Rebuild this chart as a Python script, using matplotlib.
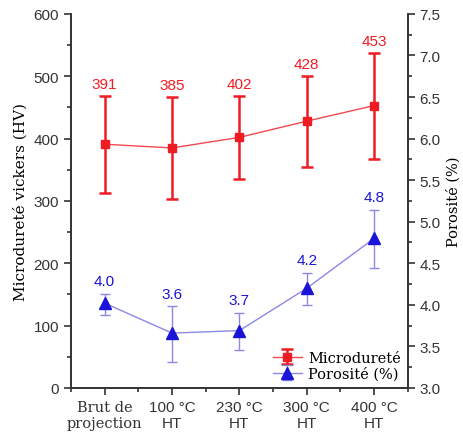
import matplotlib.pyplot as plt
from matplotlib.ticker import MultipleLocator

# données
categories = ["Brut de\nprojection", "100 °C\nHT", "230 °C\nHT", "300 °C\nHT", "400 °C\nHT"]
hardness = [391, 385, 402, 428, 453]
hardness_err = [78, 82, 67, 73, 85]
hardness_labels = ["391", "385", "402", "428", "453"]
porosity = [4.02, 3.66, 3.69, 4.20, 4.80]
porosity_err_low = [0.14, 0.35, 0.23, 0.20, 0.36]
porosity_err_high = [0.11, 0.32, 0.21, 0.18, 0.34]
porosity_labels = ["4.0", "3.6", "3.7", "4.2", "4.8"]
porosity_ticks = [3.0, 3.5, 4.0, 4.5, 5.0, 5.5, 6.0, 6.5, 7.0, 7.5]

RED = "#f01c24"
RED_LINE = "#f04a50"
BLUE = "#1a14d8"
BLUE_LINE = "#8c88e6"
SANS = "Liberation Sans"
SERIF = "DejaVu Serif"

plt.rcParams["font.family"] = [SANS, "DejaVu Sans"]

fig = plt.figure(figsize=(4.64, 4.39), dpi=100)
ax = fig.add_axes([0.153, 0.114, 0.726, 0.852])
ax2 = ax.twinx()

x = list(range(len(categories)))

ax.errorbar(x, hardness, yerr=hardness_err, color=RED_LINE, ecolor=RED, elinewidth=1.8,
            capsize=4, capthick=1.8, marker="s", markersize=6, markerfacecolor=RED,
            markeredgecolor=RED, linewidth=1.0, label="Microdureté", zorder=3)
for xi, yi, e, t in zip(x, hardness, hardness_err, hardness_labels):
    ax.text(xi, yi + e + 7, t, ha="center", va="bottom", color=RED, fontsize=11)

ax2.errorbar(x, porosity, yerr=[porosity_err_low, porosity_err_high], color=BLUE_LINE,
             ecolor=BLUE_LINE, elinewidth=1.0, capsize=3.5, capthick=1.0, marker="^",
             markersize=9, markerfacecolor=BLUE, markeredgecolor=BLUE, linewidth=1.0,
             label="Porosité (%)", zorder=3)
for xi, yi, e, t in zip(x, porosity, porosity_err_high, porosity_labels):
    ax2.text(xi, yi + e + 0.07, t, ha="center", va="bottom", color=BLUE, fontsize=11)

ax.set_xlim(-0.5, 4.5)
ax.set_xticks(x)
ax.xaxis.set_minor_locator(MultipleLocator(0.5))
ax.yaxis.set_major_locator(MultipleLocator(100))
ax.yaxis.set_minor_locator(MultipleLocator(50))
ax2.set_yticks(porosity_ticks)
ax2.set_yticklabels([f"{v:.1f}" for v in porosity_ticks])
ax2.yaxis.set_minor_locator(MultipleLocator(0.25))
ax.set_ylim(0, 600)
ax2.set_ylim(3.0, 7.5)

for a in (ax, ax2):
    a.spines["top"].set_visible(False)
    for s in a.spines.values():
        s.set_linewidth(1.2)
        s.set_color("#333333")
    a.tick_params(which="major", direction="out", length=5, width=1.2, labelsize=11,
                  colors="#333333")
    a.tick_params(which="minor", direction="out", length=3, width=1.2, colors="#333333")

ax.set_xticklabels(categories)
first = ax.get_xticklabels()[0]
first.set_family(SERIF)
first.set_fontsize(10.5)

ax.set_ylabel("Microdureté vickers (HV)", family=SERIF, fontsize=11, labelpad=4)
ax2.set_ylabel("Porosité (%)", family=SERIF, fontsize=10.5, labelpad=4)

h1, l1 = ax.get_legend_handles_labels()
h2, l2 = ax2.get_legend_handles_labels()
leg = ax2.legend(h1 + h2, l1 + l2, loc="lower right", frameon=False,
                 prop={"family": SERIF, "size": 10.5}, handlelength=2.0,
                 borderaxespad=0.1, labelspacing=0.1, handletextpad=0.4)

fig.savefig("out.png", dpi=100)
